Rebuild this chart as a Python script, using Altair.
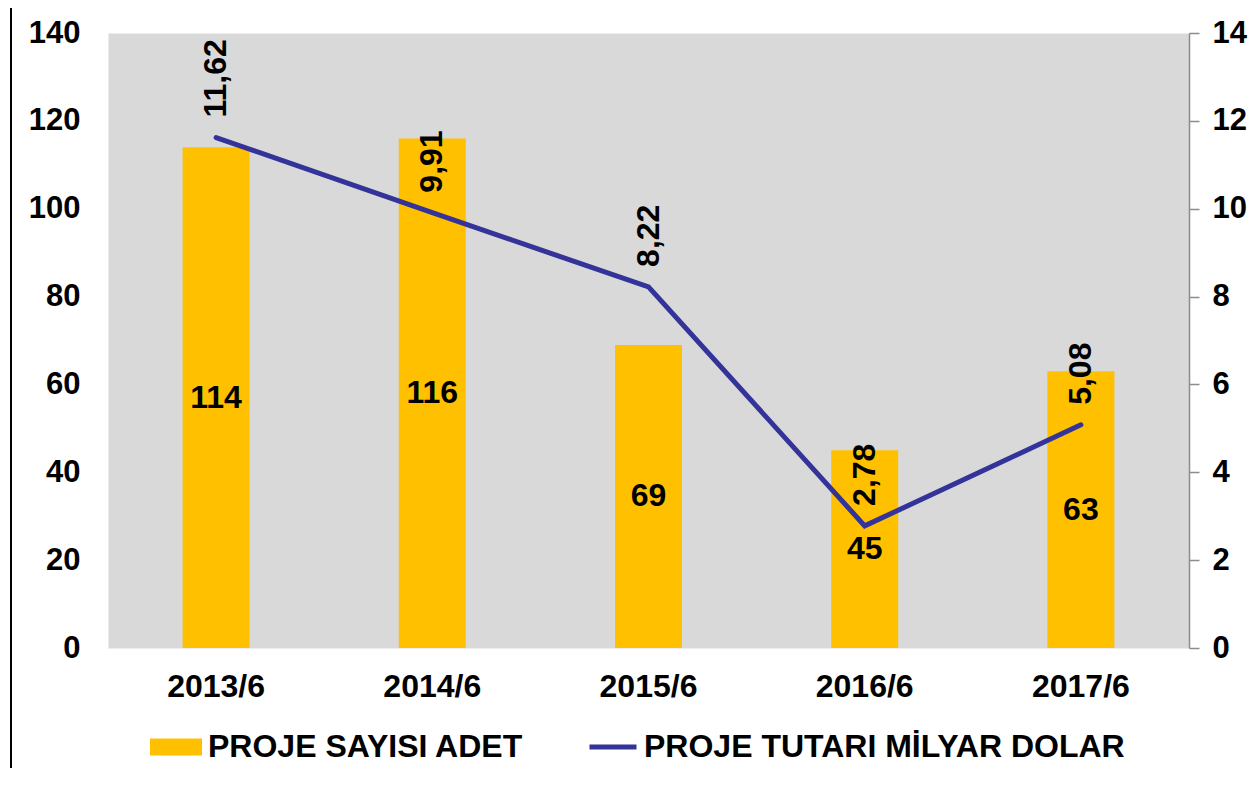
import altair as alt
import pandas as pd

periods = ["2013/6", "2014/6", "2015/6", "2016/6", "2017/6"]
counts = [114, 116, 69, 45, 63]
amounts = [11.62, 9.91, 8.22, 2.78, 5.08]
bar_series = "PROJE SAYISI ADET"
line_series = "PROJE TUTARI MİLYAR DOLAR"
left_ticks = [0, 20, 40, 60, 80, 100, 120, 140]
right_ticks = [0, 2, 4, 6, 8, 10, 12, 14]

df = pd.DataFrame({"period": periods, "count": counts, "amount": amounts})
df["amount_label"] = [f"{v:.2f}".replace(".", ",") for v in amounts]
df["bar_s"] = bar_series
df["line_s"] = line_series

FONT = "Liberation Sans"
BAR_C = "#FFC000"
LINE_C = "#333399"

x = alt.X(
    "period:N", sort=periods, title=None,
    axis=alt.Axis(labelAngle=0, ticks=False, domain=False, labelFontSize=32,
                  labelPadding=23, labelFont=FONT, labelFontWeight="bold",
                  labelColor="black"),
)

left_scale = alt.Scale(domain=[0, 140])
right_scale = alt.Scale(domain=[0, 14])

base = alt.Chart(df)

bars = base.mark_bar(size=67).encode(
    x=x,
    y=alt.Y("count:Q", scale=left_scale, title=None,
            axis=alt.Axis(orient="left", values=left_ticks, domain=False, ticks=False,
                          grid=False, labelFontSize=31, labelFont=FONT,
                          labelFontWeight="bold", labelColor="black", labelPadding=28)),
    color=alt.Color("bar_s:N", scale=alt.Scale(domain=[bar_series], range=[BAR_C]),
                    legend=alt.Legend(orient="none", legendX=42, legendY=688, title=None,
                                      symbolType="M-1,-0.327H1V0.327H-1Z", symbolSize=2704,
                                      symbolStrokeWidth=0, symbolOpacity=1,
                                      labelFontSize=32, labelFont=FONT,
                                      labelFontWeight="bold", labelColor="black",
                                      labelOffset=6, padding=0, labelLimit=600)),
)

bar_text = base.transform_calculate(mid="datum.count / 2").mark_text(
    fontSize=32, font=FONT, fontWeight="bold", color="black",
    align="center", baseline="middle",
).encode(
    x=x,
    y=alt.Y("mid:Q", scale=left_scale, axis=None),
    text="count:Q",
)

line = base.mark_line(strokeWidth=5, strokeCap="round").encode(
    x=x,
    y=alt.Y("amount:Q", scale=right_scale, title=None,
            axis=alt.Axis(orient="right", values=right_ticks, domain=True,
                          domainColor="#8c8c8c", domainWidth=1.5, ticks=True,
                          tickColor="#8c8c8c", tickSize=10, tickWidth=1.5, grid=False,
                          labelFontSize=31, labelFont=FONT, labelFontWeight="bold",
                          labelColor="black", labelPadding=13)),
    stroke=alt.Stroke("line_s:N", scale=alt.Scale(domain=[line_series], range=[LINE_C]),
                      legend=alt.Legend(orient="none", legendX=479, legendY=688, title=None,
                                        symbolType="stroke", symbolSize=2209,
                                        symbolStrokeWidth=5, labelFontSize=32,
                                        labelFont=FONT, labelFontWeight="bold",
                                        labelColor="black", labelOffset=5, padding=0,
                                        labelLimit=700)),
)

line_text = base.mark_text(
    fontSize=32, font=FONT, fontWeight="bold", color="black",
    angle=270, align="left", baseline="middle", dx=20,
).encode(
    x=x,
    y=alt.Y("amount:Q", scale=right_scale, axis=None),
    text="amount_label:N",
)

frame = alt.Chart(pd.DataFrame({"a": [0]})).mark_rule(color="black", strokeWidth=2).encode(
    x=alt.value(-97), y=alt.value(-40), y2=alt.value(780)
)

chart = alt.layer(bars, bar_text, line, line_text, frame).resolve_scale(
    y="independent", color="independent", stroke="independent"
).properties(
    width=1081, height=615,
    padding={"left": 100, "top": 25, "right": 59, "bottom": 120},
    autosize=alt.AutoSizeParams(type="none"),
).configure_view(
    fill="#D9D9D9", stroke="transparent"
).configure_axis(grid=False)

chart.save("out.html", embed_options={"renderer": "svg", "actions": False})
